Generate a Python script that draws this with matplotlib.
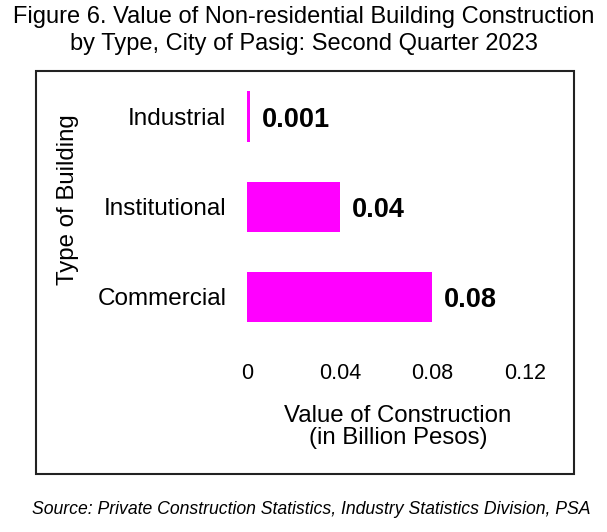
import matplotlib.pyplot as plt
from matplotlib.patches import Rectangle

plt.rcParams['font.family'] = ['Liberation Sans', 'DejaVu Sans']

# data
categories = ['Commercial', 'Institutional', 'Industrial']
values = [0.08, 0.04, 0.001]
value_labels = ['0.08', '0.04', '0.001']
xticks = [0, 0.04, 0.08, 0.12]
xtick_labels = ['0', '0.04', '0.08', '0.12']

W, H = 607, 532
fig = plt.figure(figsize=(W / 100, H / 100), dpi=100)

# axes placed in pixel coordinates: x 247..525, y 80..345
ax = fig.add_axes([247.3 / W, 1 - 345 / H, (524.8 - 247.3) / W, (345 - 80) / H])
ax.barh(range(len(categories)), values, height=0.556, color='#ff00ff')
for i, (v, lab) in enumerate(zip(values, value_labels)):
    ax.text(v + 0.0052, i - 0.04, lab, va='center', ha='left',
            fontsize=19.5, fontweight='bold', color='black')

ax.set_xlim(0, 0.12)
ax.set_ylim(-0.537, 2.405)
ax.set_xticks(xticks)
ax.set_xticklabels(xtick_labels, fontsize=15.5)
ax.set_yticks(range(len(categories)))
ax.set_yticklabels(categories, fontsize=17.5)
ax.tick_params(axis='y', length=0, pad=15)
ax.tick_params(axis='x', length=0, pad=13)
for s in ax.spines.values():
    s.set_visible(False)

ax.set_xlabel('Value of Construction\n(in Billion Pesos)', fontsize=17.3,
              linespacing=1.05)
ax.xaxis.set_label_coords((398 - 247.3) / (524.8 - 247.3), -(427 - 345) / (345 - 80))
ax.xaxis.label.set_va('center')
fig.text(68 / W, 1 - 200 / H, 'Type of Building', rotation=90,
         ha='center', va='center', fontsize=17.3)

# border box
fig.patches.append(Rectangle((36 / W, 1 - 474 / H), (574 - 36) / W, (474 - 71) / H,
                             transform=fig.transFigure, fill=False,
                             edgecolor='#222222', linewidth=1.5))

fig.text(0.5, 1 - 30.5 / H,
         'Figure 6. Value of Non-residential Building Construction\nby Type, City of Pasig: Second Quarter 2023',
         ha='center', va='center', fontsize=17, linespacing=1.28)
fig.text(311 / W, 1 - 510 / H,
         'Source: Private Construction Statistics, Industry Statistics Division, PSA',
         ha='center', va='center', fontsize=12.7, style='italic')

fig.savefig('out.png', dpi=100)
